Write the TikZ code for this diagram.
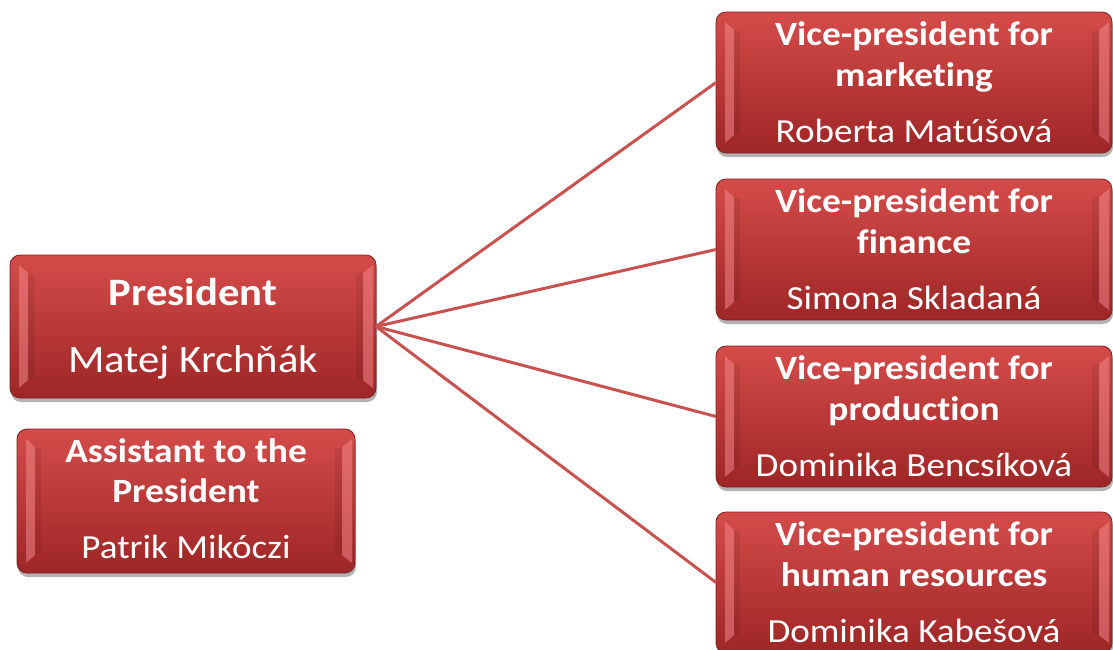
\documentclass[tikz,border=0pt]{standalone}
\usepackage{fontspec}
\setmainfont[FakeStretch=1.1,Ligatures=NoCommon]{Carlito}
\usetikzlibrary{shadows}

\definecolor{boxtop}{RGB}{212,76,74}
\definecolor{boxmid}{RGB}{194,58,56}
\definecolor{boxbot}{RGB}{158,38,38}
\definecolor{boxedge}{RGB}{128,32,32}
\definecolor{linkred}{RGB}{200,82,80}
\definecolor{bevelpink}{RGB}{245,140,140}

\tikzset{
  orgbox/.style={draw=boxedge, line width=0.8pt, rounded corners=10pt,
    top color=boxtop, middle color=boxmid, bottom color=boxbot,
    drop shadow={shadow xshift=1pt, shadow yshift=-4pt, opacity=0.3, fill=black},
    inner sep=0pt, outer sep=0pt, anchor=north west},
  vpbox/.style={orgbox, minimum width=396pt, minimum height=141pt},
  ttext/.style={text=white, anchor=base, inner sep=0pt, font=\fontsize{34}{40}\selectfont\bfseries},
  ntext/.style={text=white, anchor=base, inner sep=0pt, font=\fontsize{33.7}{40}\selectfont},
  bigttext/.style={text=white, anchor=base, inner sep=0pt, font=\fontsize{38.8}{45}\selectfont\bfseries},
  bigntext/.style={text=white, anchor=base, inner sep=0pt, font=\fontsize{38.8}{45}\selectfont},
  link/.style={draw=linkred, line width=3pt},
  bevel/.style={fill=bevelpink, opacity=0.5},
  bevelshade/.style={fill=black, opacity=0.08}
}

\newcommand{\bevelbox}[1]{%
  \fill[bevel] ([xshift=9pt,yshift=-10pt]#1.north west) -- ([xshift=18pt,yshift=-18pt]#1.north west)
     -- ([xshift=18pt,yshift=18pt]#1.south west) -- ([xshift=9pt,yshift=10pt]#1.south west) -- cycle;
  \fill[bevelshade] ([xshift=18pt,yshift=-18pt]#1.north west) -- ([xshift=24pt,yshift=-20pt]#1.north west)
     -- ([xshift=24pt,yshift=20pt]#1.south west) -- ([xshift=18pt,yshift=18pt]#1.south west) -- cycle;
  \fill[bevel] ([xshift=-3pt,yshift=-10pt]#1.north east) -- ([xshift=-13pt,yshift=-18pt]#1.north east)
     -- ([xshift=-13pt,yshift=18pt]#1.south east) -- ([xshift=-3pt,yshift=10pt]#1.south east) -- cycle;
  \fill[bevelshade] ([xshift=-13pt,yshift=-18pt]#1.north east) -- ([xshift=-20pt,yshift=-20pt]#1.north east)
     -- ([xshift=-20pt,yshift=20pt]#1.south east) -- ([xshift=-13pt,yshift=18pt]#1.south east) -- cycle;
}

\begin{document}
\begin{tikzpicture}[x=1pt,y=-1pt]
\useasboundingbox (0,0) rectangle (1113,649);
\clip (0,0) rectangle (1113,649);

% boxes
\node[orgbox, minimum width=366pt, minimum height=143pt] (pres) at (10,255) {};
\node[orgbox, minimum width=338pt, minimum height=144pt] (asst) at (17,429) {};
\node[vpbox] (vp1) at (716,12) {};
\node[vpbox] (vp2) at (716,179) {};
\node[vpbox] (vp3) at (716,346) {};
\node[vpbox] (vp4) at (716,512) {};

\bevelbox{pres}
\bevelbox{asst}
\bevelbox{vp1}
\bevelbox{vp2}
\bevelbox{vp3}
\bevelbox{vp4}

% connectors
\draw[link] (pres.east) -- (vp1.west);
\draw[link] (pres.east) -- (vp2.west);
\draw[link] (pres.east) -- (vp3.west);
\draw[link] (pres.east) -- (vp4.west);

% texts
\node[bigttext] (presT) at (193,305) {President};
\node[bigntext] (presN) at (193,372) {Matej Krchňák};

\node[ttext] (asstT1) at (186,462) {Assistant to the};
\node[ttext] (asstT2) at (186,502) {President};
\node[ntext] (asstN) at (186,558) {Patrik Mikóczi};

\node[ttext] (vp1T1) at (914,45) {Vice-president for};
\node[ttext] (vp1T2) at (914,86) {marketing};
\node[ntext] (vp1N) at (914,142) {Roberta Matúšová};

\node[ttext] (vp2T1) at (914,212) {Vice-president for};
\node[ttext] (vp2T2) at (914,253) {finance};
\node[ntext] (vp2N) at (914,309) {Simona Skladaná};

\node[ttext] (vp3T1) at (914,379) {Vice-president for};
\node[ttext] (vp3T2) at (914,420) {production};
\node[ntext] (vp3N) at (914,476) {Dominika Bencsíková};

\node[ttext] (vp4T1) at (914,545) {Vice-president for};
\node[ttext] (vp4T2) at (914,586) {human resources};
\node[ntext] (vp4N) at (914,642) {Dominika Kabešová};
\end{tikzpicture}
\end{document}
